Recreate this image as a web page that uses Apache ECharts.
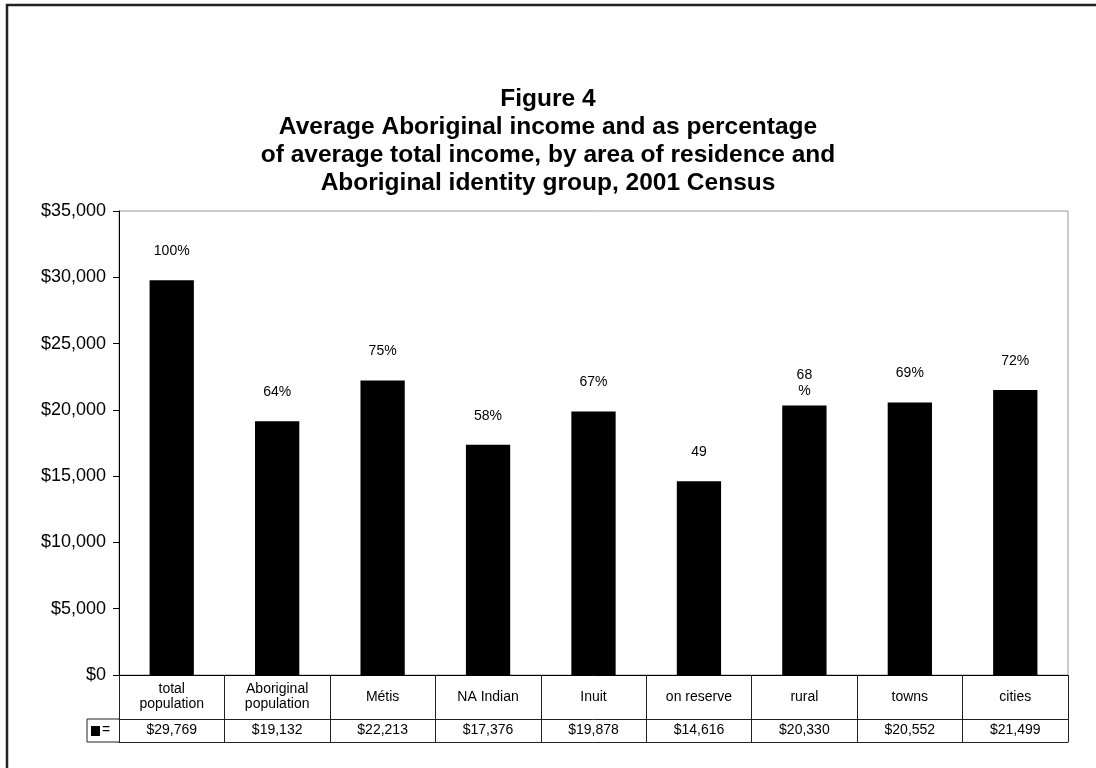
<!DOCTYPE html>
<html>
<head>
<meta charset="utf-8">
<title>Figure 4</title>
<script src="https://cdn.jsdelivr.net/npm/echarts@6/dist/echarts.min.js"></script>
<style>
  html, body { margin: 0; padding: 0; background: #fff; }
  #main { width: 1096px; height: 768px; }
</style>
</head>
<body>
<div id="main"></div>
<script>
// data
const categories = ['total\npopulation', 'Aboriginal\npopulation', 'Métis', 'NA Indian', 'Inuit', 'on reserve', 'rural', 'towns', 'cities'];
const incomes = [29769, 19132, 22213, 17376, 19878, 14616, 20330, 20552, 21499];
const pctLabels = ['100%', '64%', '75%', '58%', '67%', '49', '68\n%', '69%', '72%'];
const yTicks = { min: 0, max: 35000, interval: 5000 };

const FONT = 'Liberation Sans, Arial, sans-serif';

function money(v) {
  return '$' + Number(v).toLocaleString('en-US');
}

let chart = echarts.init(document.getElementById('main'), null, { renderer: 'canvas' });

// grid edges, the table below hangs off the bottom axis
const gridLeft = 119, gridTop = 211, gridRight = 28, gridBottom = 93;
const rowCat = 44, rowVal = 23;

var option = {
  backgroundColor: '#fff',
  animation: false,
  textStyle: { fontFamily: FONT },
  title: {
    text: 'Figure 4\nAverage Aboriginal income and as percentage\nof average total income, by area of residence and\nAboriginal identity group, 2001 Census',
    left: 'center',
    top: 80,
    textStyle: {
      fontFamily: FONT,
      fontSize: 24.5,
      fontWeight: 'bold',
      color: '#000',
      lineHeight: 28
    }
  },
  grid: {
    left: gridLeft,
    top: gridTop,
    right: gridRight,
    bottom: gridBottom,
    show: true,
    borderColor: '#999',
    borderWidth: 1
  },
  xAxis: [{
      // category row of the table
      type: 'category',
      data: categories,
      position: 'bottom',
      axisLine: { lineStyle: { color: '#000', width: 1 } },
      axisTick: { show: true, alignWithLabel: false, length: rowCat + rowVal, lineStyle: { color: '#222' } },
      axisLabel: {
        color: '#000',
        fontSize: 14,
        lineHeight: 15,
        margin: rowCat / 2,
        verticalAlign: 'middle',
        interval: 0
      }
    },
    {
      // value row of the table
      type: 'category',
      data: incomes.map(money),
      position: 'bottom',
      offset: rowCat,
      axisLine: { lineStyle: { color: '#222', width: 1 } },
      axisTick: { show: false },
      axisLabel: {
        color: '#000',
        fontSize: 14,
        margin: rowVal / 2,
        verticalAlign: 'middle',
        interval: 0
      }
    },
    {
      // bottom edge of the table
      type: 'category',
      data: categories,
      position: 'bottom',
      offset: rowCat + rowVal,
      axisLine: { lineStyle: { color: '#222', width: 1 } },
      axisTick: { show: false },
      axisLabel: { show: false }
    }
  ],
  yAxis: {
    type: 'value',
    min: yTicks.min,
    max: yTicks.max,
    interval: yTicks.interval,
    axisLine: { show: true, lineStyle: { color: '#000', width: 1 } },
    axisTick: { show: true, length: 6, lineStyle: { color: '#000' } },
    splitLine: { show: false },
    axisLabel: {
      color: '#000',
      fontSize: 18,
      margin: 13,
      formatter: money
    }
  },
  series: [{
    type: 'bar',
    xAxisIndex: 0,
    barWidth: '42%',
    itemStyle: { color: '#000' },
    data: incomes.map((v, i) => {
      let item = { value: v };
      // the wrapped label sits closer to its bar
      if (pctLabels[i].indexOf('\n') >= 0) item.label = { distance: 6 };
      return item;
    }),
    label: {
      show: true,
      position: 'top',
      distance: 21,
      color: '#000',
      fontSize: 14,
      lineHeight: 16,
      formatter: p => pctLabels[p.dataIndex]
    }
  }]
};

chart.setOption(option);

// outer frame and the "■ =" key cell of the table
let y0 = chart.convertToPixel({ yAxisIndex: 0 }, 0);
chart.setOption({
  graphic: [{
      type: 'rect',
      shape: { x: 7, y: 5, width: 2000, height: 2000 },
      style: { fill: null, stroke: '#222', lineWidth: 2.5 },
      silent: true
    },
    {
      type: 'polyline',
      shape: { points: [[gridLeft, y0 + rowCat], [gridLeft - 32, y0 + rowCat], [gridLeft - 32, y0 + rowCat + rowVal], [gridLeft, y0 + rowCat + rowVal]] },
      style: { fill: null, stroke: '#222', lineWidth: 1 }
    },
    {
      type: 'rect',
      shape: { x: gridLeft - 28, y: y0 + rowCat + 7, width: 9, height: 10 },
      style: { fill: '#000' }
    },
    {
      type: 'text',
      x: gridLeft - 13,
      y: y0 + rowCat + rowVal / 2,
      style: { text: '=', fontSize: 14, fontFamily: FONT, fill: '#000', align: 'center', verticalAlign: 'middle' }
    }
  ]
});
</script>
</body>
</html>
